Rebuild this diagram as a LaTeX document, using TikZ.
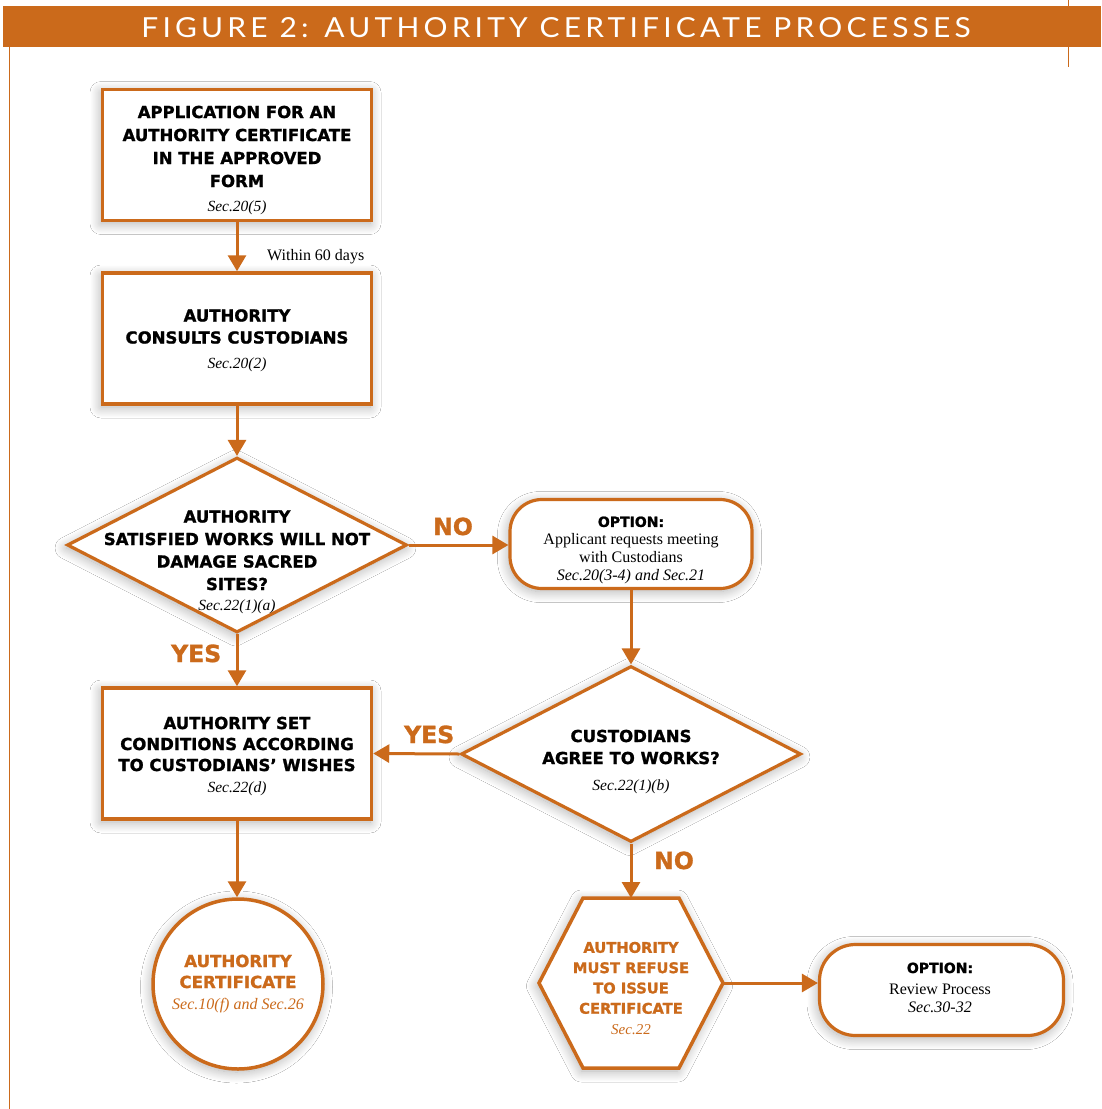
\documentclass[tikz,border=0pt]{standalone}
\usepackage{fontspec}
\usepackage{graphicx}
\setmainfont{Liberation Serif}
\newfontfamily\heavy[BoldFeatures={FakeBold=1.3}]{DejaVu Sans}
\newfontfamily\titlef[LetterSpace=14]{Lato}
\usetikzlibrary{shapes.geometric,arrows.meta,shadows.blur,calc}
\definecolor{org}{RGB}{203,106,27}
\newcommand\hvsz[2]{\heavy\bfseries\fontsize{#1}{#2}\selectfont}
\newcommand\secl[2]{{\normalfont\itshape\fontsize{#1}{\the\baselineskip}\selectfont #2}}
\newcommand\srf[1]{\normalfont\fontsize{#1}{\the\baselineskip}\selectfont}
\tikzset{
  shd/.style={blur shadow={shadow xshift=-1.5pt, shadow yshift=-3pt, shadow blur radius=11pt, shadow blur steps=20, shadow opacity=32}},
  box/.style={draw=org, line width=3.5pt, fill=white, minimum width=269pt, minimum height=131pt, inner sep=0pt, shd},
  dia/.style={diamond, draw=org, line width=3.2pt, fill=white, minimum width=340pt, minimum height=175pt, inner sep=0pt, shd},
  optbox/.style={draw=org, line width=3.2pt, fill=white, rounded corners=32pt, inner sep=0pt, shd},
  arr/.style={draw=org, line width=3pt, -{Triangle[length=16pt,width=18pt]}},
  txt/.style={align=center, anchor=base, inner sep=0pt},
  lbl/.style={text=org, font=\hvsz{23.5}{26}, anchor=base west, inner sep=0pt},
}
\begin{document}
\begin{tikzpicture}[x=1pt,y=-1pt]
\fill[white] (0,0) rectangle (1101,1109);
\useasboundingbox (0,0) rectangle (1101,1109);
% header
\fill[org] (3,6) rectangle (1101,47);
\draw[org, line width=1.4pt] (9.5,47) -- (9.5,1109);
\draw[org, line width=1pt] (1068,0) -- (1068,67);
\node[inner sep=0pt, anchor=base, text=white] (title) at (556,37) {\resizebox{829pt}{20pt}{\titlef FIGURE 2: AUTHORITY CERTIFICATE PROCESSES}};

% shapes
\node[box] (b1) at (237,155) {};
\node[box] (b2) at (237,338.5) {};
\node[dia] (d1) at (237,545) {};
\node[optbox, minimum width=242pt, minimum height=89pt] (o1) at (631,544) {};
\node[box] (b3) at (237,753.5) {};
\node[dia, minimum height=176pt] (d2) at (631,754) {};
\node[circle, draw=org, line width=3.5pt, fill=white, minimum size=170pt, inner sep=0pt, shd] (c1) at (238,984) {};
\node[minimum width=184pt, minimum height=170pt, inner sep=0pt, outer sep=0pt] (hx) at (631,983) {};
\path[draw=org, line width=3.5pt, fill=white, line join=miter, shd]
  (hx.west) -- ([xshift=44pt]hx.north west) -- ([xshift=-44pt]hx.north east) -- (hx.east)
  -- ([xshift=-44pt]hx.south east) -- ([xshift=44pt]hx.south west) -- cycle;
\node[optbox, minimum width=244pt, minimum height=91pt, rounded corners=36pt] (o2) at (941.5,990) {};

% texts (anchor = baseline of the last line)
\node[txt, font=\hvsz{16.5}{23}] (t1) at (237,211) {APPLICATION FOR AN\\AUTHORITY CERTIFICATE\\IN THE APPROVED\\FORM\\[1pt]\secl{15.5}{Sec.20(5)}};
\node[txt, font=\hvsz{16.5}{22}] (t2) at (237,368) {AUTHORITY\\CONSULTS CUSTODIANS\\[2.5pt]\secl{15.5}{Sec.20(2)}};
\node[txt, font=\hvsz{16.5}{22.5}] (t3) at (237,610) {AUTHORITY\\SATISFIED WORKS WILL NOT\\DAMAGE SACRED\\SITES?\\[-2.5pt]\secl{15.5}{Sec.22(1)(a)}};
\node[txt, font=\hvsz{14}{17.7}] (t4) at (631,580) {OPTION:\\\srf{16}Applicant requests meeting\\\srf{16}with Custodians\\\secl{16}{Sec.20(3-4) and Sec.21}};
\node[txt, font=\hvsz{16.5}{21}] (t5) at (237,792) {AUTHORITY SET\\CONDITIONS ACCORDING\\TO CUSTODIANS’ WISHES\\\secl{15.5}{Sec.22(d)}};
\node[txt, font=\hvsz{16.5}{22}] (t6) at (631,790) {CUSTODIANS\\AGREE TO WORKS?\\[4pt]\secl{15.5}{Sec.22(1)(b)}};
\node[txt, text=org, font=\hvsz{16.6}{21}] (t7) at (238,1009) {AUTHORITY\\CERTIFICATE\\\secl{16}{Sec.10(f) and Sec.26}};
\node[txt, text=org, font=\hvsz{14.7}{20.3}] (t8) at (631,1034) {AUTHORITY\\MUST REFUSE\\TO ISSUE\\CERTIFICATE\\\secl{15}{Sec.22}};
\node[txt, font=\hvsz{14}{17.5}] (t9) at (940,1012) {OPTION:\\[4pt]\srf{16}Review Process\\\secl{16}{Sec.30-32}};

% connectors
\draw[arr] (b1.south) -- (b2.north);
\draw[arr] (b2.south) -- (d1.north);
\draw[arr] (d1.east) -- (d1.east -| o1.west);
\draw[arr] (d1.south) -- (b3.north);
\draw[arr] (o1.south) -- (d2.north);
\draw[arr] (d2.west) -- (b3.east);
\draw[arr] (d2.south) -- (hx.north);
\draw[arr] (b3.south) -- (b3.south |- c1.north);
\draw[arr] (hx.east) -- (hx.east -| o2.west);

% connector labels
\node[anchor=base west, inner sep=0pt, font=\srf{16}] (l60) at (267,260) {Within 60 days};
\node[lbl] (lno1) at (433,535) {NO};
\node[lbl] (lyes1) at (171,662) {YES};
\node[lbl] (lyes2) at (404,743) {YES};
\node[lbl] (lno2) at (654,869) {NO};
\end{tikzpicture}
\end{document}
